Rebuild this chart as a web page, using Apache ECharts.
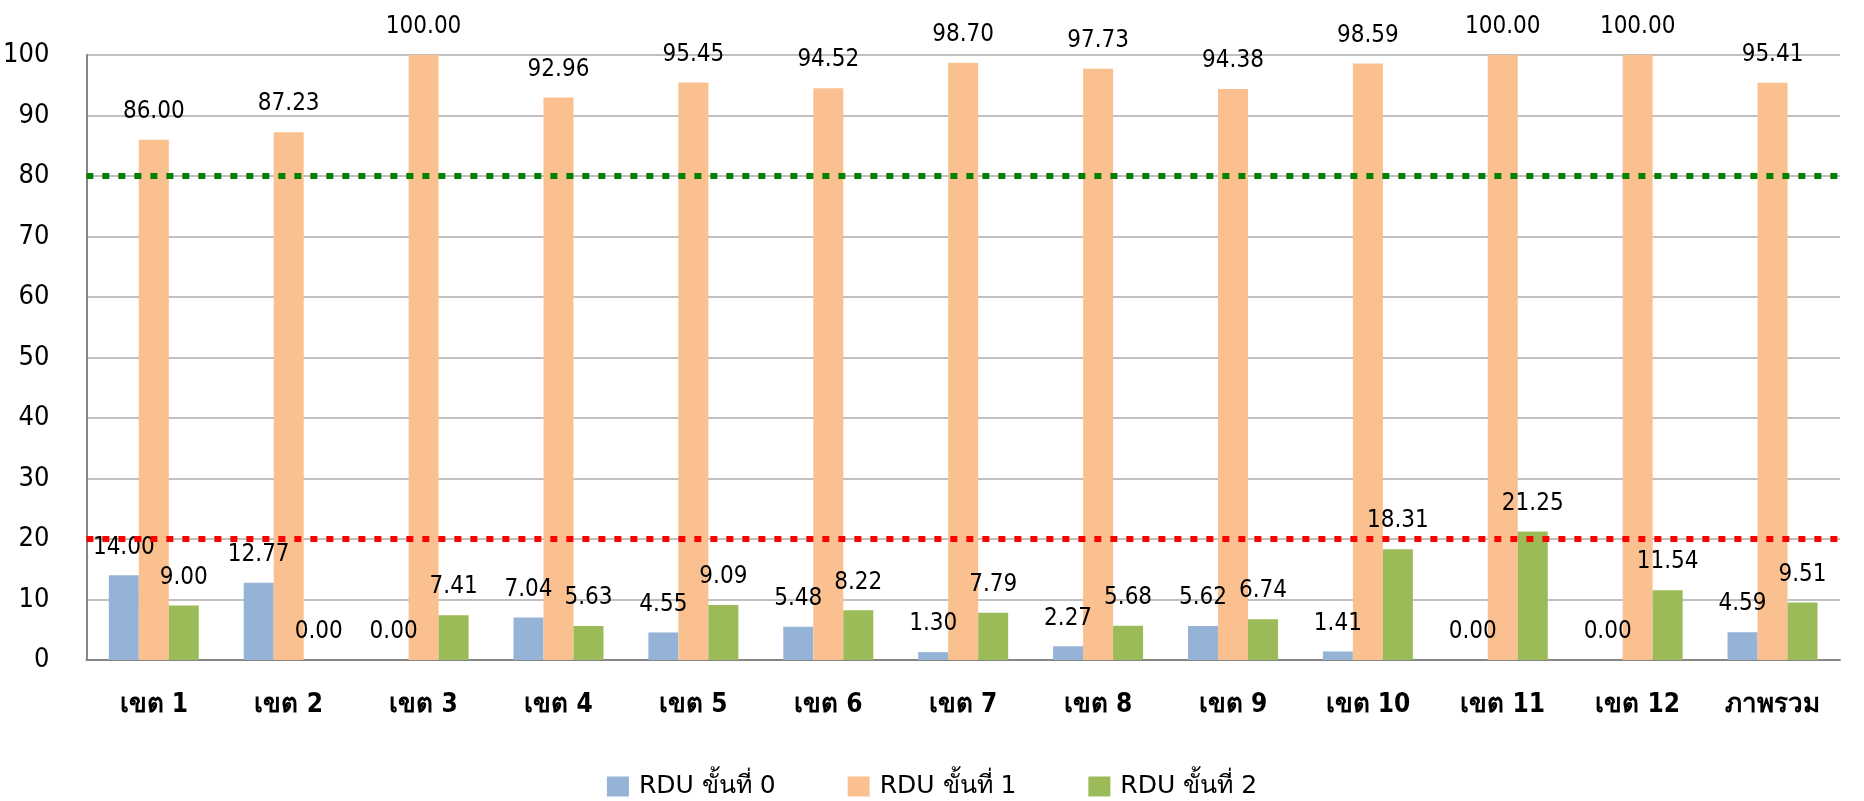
<!DOCTYPE html>
<html>
<head>
<meta charset="utf-8">
<script src="https://cdn.jsdelivr.net/npm/echarts@6/dist/echarts.min.js"></script>
<style>
  html, body { margin: 0; padding: 0; background: #fff; }
  #main { width: 1864px; height: 801px; }
</style>
</head>
<body>
<div id="main"></div>
<script>
// categories (เขต) and the three RDU levels
const categories = ['เขต 1', 'เขต 2', 'เขต 3', 'เขต 4', 'เขต 5', 'เขต 6', 'เขต 7', 'เขต 8', 'เขต 9', 'เขต 10', 'เขต 11', 'เขต 12', 'ภาพรวม']
const seriesNames = ['RDU ขั้นที่ 0', 'RDU ขั้นที่ 1', 'RDU ขั้นที่ 2']
const rdu0 = [14.00, 12.77, 0.00, 7.04, 4.55, 5.48, 1.30, 2.27, 5.62, 1.41, 0.00, 0.00, 4.59]
const rdu1 = [86.00, 87.23, 100.00, 92.96, 95.45, 94.52, 98.70, 97.73, 94.38, 98.59, 100.00, 100.00, 95.41]
const rdu2 = [9.00, 0.00, 7.41, 5.63, 9.09, 8.22, 7.79, 5.68, 6.74, 18.31, 21.25, 11.54, 9.51]
const targetLow = 20
const targetHigh = 80

const font = "'DejaVu Sans Condensed', 'DejaVu Sans', Tahoma, sans-serif"
const colors = ['#95B3D7', '#FAC090', '#9BBB59']

const myChart = echarts.init(document.getElementById('main'))

const barLabel = {
  show: true,
  position: 'top',
  distance: 16,
  color: '#000',
  fontSize: 24,
  fontFamily: font,
  formatter: p => p.value.toFixed(2)
}

const mkBar = (name, data, color) => ({
  name: name,
  type: 'bar',
  data: data,
  barWidth: 30,
  barGap: '0%',
  itemStyle: { color: color },
  label: barLabel
})

const series = [
  mkBar(seriesNames[0], rdu0, colors[0]),
  mkBar(seriesNames[1], rdu1, colors[1]),
  mkBar(seriesNames[2], rdu2, colors[2])
]

// threshold lines (dotted) drawn on top of the bars
series[2].markLine = {
  silent: true,
  symbol: 'none',
  label: { show: false },
  z: 10,
  data: [
    { yAxis: targetLow, lineStyle: { color: '#FF0000', width: 6, type: [7, 9] } },
    { yAxis: targetHigh, lineStyle: { color: '#008000', width: 6, type: [7, 9] } }
  ]
}

myChart.setOption({
  animation: false,
  textStyle: { fontFamily: font },
  grid: { left: 85, right: 24, top: 55, bottom: 141 },
  legend: {
    data: seriesNames,
    bottom: -3,
    left: 'center',
    itemWidth: 22,
    itemHeight: 20,
    itemGap: 72,
    icon: 'rect',
    textStyle: { fontSize: 25, color: '#000', padding: [0, 0, 0, 5], fontFamily: "'DejaVu Sans', Tahoma, sans-serif" }
  },
  xAxis: {
    type: 'category',
    data: categories,
    axisLine: { lineStyle: { color: '#868686', width: 2 } },
    axisTick: { show: false },
    axisLabel: { color: '#000', fontSize: 26, fontWeight: 'bold', margin: 32, fontFamily: font }
  },
  yAxis: {
    type: 'value',
    min: 0,
    max: 100,
    interval: 10,
    axisLine: { show: true, lineStyle: { color: '#868686', width: 2 } },
    axisTick: { show: false },
    splitLine: { lineStyle: { color: '#C0C0C0', width: 2 } },
    axisLabel: { color: '#000', fontSize: 27, margin: 37, fontFamily: font }
  },
  series: series
})
</script>
</body>
</html>
